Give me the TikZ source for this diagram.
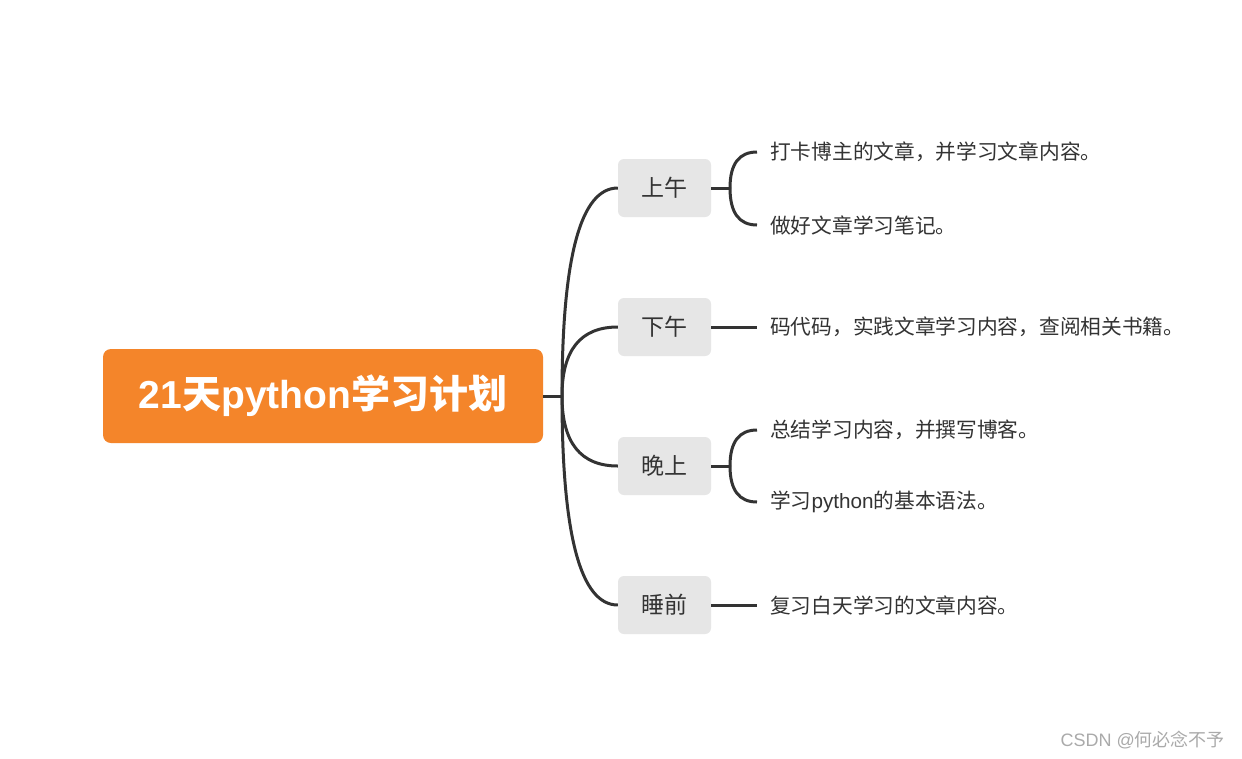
\documentclass[tikz,border=0pt]{standalone}
\usepackage{fontspec}
\usetikzlibrary{calc}
\newfontfamily\cjk{Noto Sans CJK SC}
\newfontfamily\lat{Liberation Sans}
\definecolor{orangec}{HTML}{F4852A}
\definecolor{graybox}{HTML}{E6E6E6}
\definecolor{linec}{HTML}{333333}
\definecolor{textc}{HTML}{333333}
\definecolor{wmc}{HTML}{AAAAAA}
\tikzset{
  conn/.style={draw=linec, line width=3pt},
  mainbox/.style={fill=orangec, rounded corners=8pt, minimum width=440pt, minimum height=94pt, inner sep=0pt, text=white, font=\fontsize{39}{41}\selectfont\bfseries},
  branchbox/.style={fill=graybox, rounded corners=6pt, minimum width=93pt, minimum height=58pt, inner sep=0pt, text=textc, font=\cjk\fontsize{23}{25}\selectfont},
  leaftext/.style={anchor=west, inner sep=0pt, text=textc, font=\cjk\fontsize{20.7}{22}\selectfont},
}
\begin{document}
\begin{tikzpicture}[x=1pt,y=-1pt]
\useasboundingbox (0,0) rectangle (1242,758);
\fill[white] (0,0) rectangle (1242,758);

\node[mainbox] (main) at (323,396) {{\lat 21}{\cjk 天}{\lat python}{\cjk 学习计划}};

\node[branchbox] (b1) at (664.5,188) {上午};
\node[branchbox] (b2) at (664.5,327) {下午};
\node[branchbox] (b3) at (664.5,466) {晚上};
\node[branchbox] (b4) at (664.5,605) {睡前};

\coordinate (hub) at (562,396);
\draw[conn] (main.east) -- (hub);
\foreach \b in {b1,b2,b3,b4}{
  \draw[conn] (hub) .. controls ($(hub)!0.667!(hub|-\b.west)$) and ($(\b.west)!0.667!(hub|-\b.west)$) .. (\b.west);
}

% leaves
\node[leaftext] (l1) at (770,152) {打卡博主的文章，并学习文章内容。};
\node[leaftext] (l2) at (770,225) {做好文章学习笔记。};
\node[leaftext] (l3) at (770,327) {码代码，实践文章学习内容，查阅相关书籍。};
\node[leaftext] (l4) at (770,430) {总结学习内容，并撰写博客。};
\node[leaftext] (l5) at (770,502) {学习{\lat python}的基本语法。};
\node[leaftext] (l6) at (770,605) {复习白天学习的文章内容。};

\coordinate (h1) at (730,188);
\coordinate (h3) at (730,466);
\coordinate (e1) at (757,152);
\coordinate (e2) at (757,225);
\coordinate (e3) at (757,327);
\coordinate (e4) at (757,430);
\coordinate (e5) at (757,502);
\coordinate (e6) at (757,605);

\draw[conn] (b1.east) -- (h1);
\draw[conn] (b3.east) -- (h3);
\foreach \h/\e in {h1/e1,h1/e2,h3/e4,h3/e5}{
  \draw[conn] (\h) .. controls ($(\h)!0.667!(\h|-\e)$) and ($(\e)!0.667!(\h|-\e)$) .. (\e);
}
\draw[conn] (b2.east) -- (e3);
\draw[conn] (b4.east) -- (e6);

\node[anchor=east, inner sep=0pt, text=wmc, font=\fontsize{18}{20}\selectfont] (wm) at (1225,740) {{\lat CSDN @}{\cjk 何必念不予}};
\end{tikzpicture}
\end{document}
